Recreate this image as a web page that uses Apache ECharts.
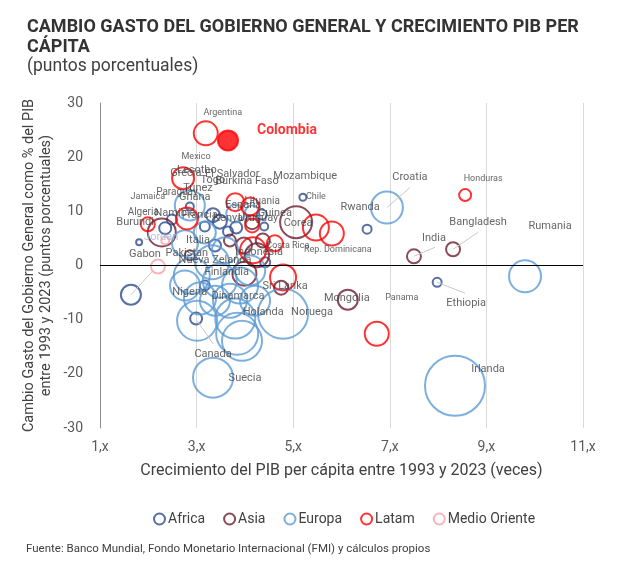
<!DOCTYPE html>
<html>
<head>
<meta charset="utf-8">
<script src="https://cdn.jsdelivr.net/npm/echarts@6/dist/echarts.min.js"></script>
<style>
  html, body { margin: 0; padding: 0; background: #fff; }
  #chart { width: 630px; height: 565px; }
</style>
</head>
<body>
<div id="chart"></div>
<script>
  // Crecimiento PIB per cápita (veces), cambio gasto (pp), tamaño burbuja
  const africaNames = ['Gabon', 'Chile', 'Rwanda', 'Ethiopia', 'Burundi', 'Algeria', 'Nigeria', 'Túnez', 'Ghana', 'Kenya', 'Togo', 'Burkina Faso', 'Mozambique', 'Guinea', 'Lesotho', 'Namibia', '', '', ''];
  const africaX = [1.64, 5.20, 6.53, 7.98, 1.81, 2.35, 3.17, 3.34, 3.48, 3.82, 3.17, 3.65, 4.40, 4.35, 2.86, 2.49, 2.99, 3.38, 4.42];
  const africaY = [-5.4, 12.6, 6.7, -3.1, 4.3, 6.9, -3.7, 9.3, 8.1, 7.0, 7.2, 6.3, 7.2, 9.4, 10.9, 8.5, -9.8, 3.7, 0.6];
  const africaSize = [20, 7, 9, 9, 6, 12, 10, 14, 14, 12, 10, 10, 8, 10, 8, 10, 12, 12, 10];

  const asiaNames = ['India', 'Bangladesh', 'Mongolia', 'Corea', 'Sri Lanka', '', 'Indonesia', '', '', '', 'Pakistan', '', ''];
  const asiaX = [7.50, 8.31, 6.13, 5.06, 4.75, 2.28, 4.25, 3.98, 4.37, 3.69, 2.86, 4.15, 3.99];
  const asiaY = [1.7, 3.0, -6.3, 8.0, -4.1, 6.1, 1.9, 3.7, 4.6, 4.6, 1.9, 8.0, -1.5];
  const asiaSize = [14, 14, 20, 32, 14, 28, 24, 16, 14, 12, 10, 14, 24];

  const europaNames = ['Croatia', 'Rumania', 'Irlanda', 'Suecia', 'Noruega', 'Holanda', 'Canada', 'Dinamarca', 'Finlandia', 'Nueva Zelanda', 'España', 'Lituania', 'Grecia', 'Italia', 'Francia', '', '', '', '', '', '', '', '', '', ''];
  const europaX = [6.94, 9.80, 8.35, 3.34, 4.79, 3.84, 3.01, 3.69, 3.48, 3.32, 3.80, 4.15, 2.86, 2.76, 3.17, 2.90, 3.90, 4.11, 3.07, 3.38, 4.21, 3.80, 2.76, 3.94, 3.59];
  const europaY = [10.7, -2.0, -22.2, -20.7, -8.9, -12.6, -10.2, -6.5, -2.8, 0.6, 9.6, 9.8, 11.1, 4.1, 6.1, -1.9, -3.7, -0.9, -6.1, -6.5, -6.5, -9.8, -3.7, -13.9, 2.8];
  const europaSize = [32, 32, 60, 40, 50, 42, 40, 34, 34, 34, 18, 14, 30, 26, 22, 36, 36, 30, 32, 30, 30, 40, 30, 40, 26];

  const latamNames = ['Argentina', 'Colombia', 'Mexico', 'El Salvador', '', 'Jamaica', 'Paraguay', 'Uruguay', '', 'Costa Rica', '', '', 'Rep. Dominicana', 'Panama', 'Honduras'];
  const latamX = [3.19, 3.65, 2.72, 3.80, 4.11, 1.99, 2.80, 4.15, 4.17, 4.62, 4.79, 5.47, 5.80, 6.73, 8.56];
  const latamY = [24.4, 23.1, 16.1, 11.7, 10.9, 7.6, 8.7, 7.4, 2.8, 4.1, -2.2, 7.0, 5.9, -12.6, 13.0];
  const latamSize = [24, 20, 22, 18, 18, 14, 22, 14, 26, 16, 26, 26, 24, 24, 12];

  const medioNames = ['Jordan', ''];
  const medioX = [2.35, 2.20];
  const medioY = [4.6, -0.2];
  const medioSize = [8, 14];

  const xTicks = [1, 3, 5, 7, 9, 11];

  // posición de etiquetas: [dx, dy, tamaño, fin de línea guía]
  const labelSpec = {
    'Gabon': [14, -41, 11, [22, -24]], 'Chile': [13, -1, 9], 'Rwanda': [-7, -22, 11], 'Ethiopia': [29, 21, 11, [28, 11]],
    'Burundi': [-4, -20, 11], 'Algeria': [-22, -16, 10], 'Nigeria': [-15, 7, 11], 'Túnez': [-15, -27, 11],
    'Ghana': [-25, -24, 11], 'Kenya': [-8, -9, 11], 'Togo': [8, -46, 11], 'Burkina Faso': [19, -50, 11],
    'Mozambique': [41, -50, 11], 'Guinea': [13, -1, 11], 'Lesotho': [7, -36, 11], 'Namibia': [3, -6, 11],
    'India': [20, -18, 11, [21, -9]], 'Bangladesh': [25, -27, 11, [25, -17]], 'Mongolia': [-1, -1, 11], 'Corea': [2, 1, 11],
    'Sri Lanka': [4, -1, 11], 'Indonesia': [2, -3, 11], 'Pakistan': [-3, -2, 11],
    'Croatia': [23, -30, 11, [23, -20]], 'Rumania': [25, -50, 11], 'Irlanda': [33, -17, 11], 'Suecia': [32, 1, 11],
    'Noruega': [29, -1, 11], 'Holanda': [26, -22, 11], 'Canada': [16, 33, 11, [16, 23]], 'Dinamarca': [8, -4, 11],
    'Finlandia': [7, -8, 11], 'Nueva Zelanda': [3, -2, 11], 'España': [8, -8, 11], 'Lituania': [10, -11, 10],
    'Grecia': [-4, -32, 11], 'Italia': [13, -3, 11], 'Francia': [-5, -17, 11],
    'Argentina': [17, -21, 9], 'Colombia': [59, -10, 14], 'Mexico': [13, -22, 9], 'El Salvador': [-3, -28, 11],
    'Jamaica': [0, -28, 9], 'Paraguay': [-10, -26, 10], 'Uruguay': [6, -7, 11], 'Costa Rica': [13, 2, 9],
    'Rep. Dominicana': [6, 16, 9], 'Panama': [25, -36, 9], 'Honduras': [18, -16, 9], 'Jordan': [-4, -3, 11]
  };

  const chart = echarts.init(document.getElementById('chart'));

  function buildSeries(name, color, names, xs, ys, sizes) {
    return {
      name: name,
      type: 'scatter',
      z: 3,
      symbolSize: d => d[2],
      itemStyle: { color: 'transparent', borderColor: color, borderWidth: 2 },
      label: {
        show: true, position: 'inside', formatter: '{b}',
        color: '#404040', fontSize: 11, fontFamily: 'Roboto'
      },
      labelLayout: p => {
        const s = labelSpec[p.text];
        if (!s) return {};
        return {
          x: p.rect.x + p.rect.width / 2 + s[0],
          y: p.rect.y + p.rect.height / 2 + s[1],
          align: 'center', verticalAlign: 'middle'
        };
      },
      emphasis: { disabled: true },
      data: names.map((n, i) => {
        const s = labelSpec[n];
        const item = {
          name: n,
          value: [xs[i], ys[i], sizes[i]],
          label: { show: !!s, fontSize: s ? s[2] : 11 }
        };
        if (n === 'Colombia') {
          item.itemStyle = { color: color };
          item.label.color = color;
          item.label.fontWeight = 'bold';
        }
        if (n === 'Jordan') item.label.color = '#9db4d6';
        return item;
      })
    };
  }

  const series = [
    buildSeries('Africa', '#2e4b8e', africaNames, africaX, africaY, africaSize),
    buildSeries('Asia', '#6b1d2f', asiaNames, asiaX, asiaY, asiaSize),
    buildSeries('Europa', '#5b9bd5', europaNames, europaX, europaY, europaSize),
    buildSeries('Latam', '#ff0000', latamNames, latamX, latamY, latamSize),
    buildSeries('Medio Oriente', '#f4a3ac', medioNames, medioX, medioY, medioSize)
  ];

  series[0].markLine = {
    silent: true, symbol: 'none', label: { show: false },
    lineStyle: { color: '#000', width: 1, type: 'solid' },
    data: [{ yAxis: 0 }]
  };

  // líneas guía de etiquetas desplazadas
  const allPoints = [];
  [[africaNames, africaX, africaY], [asiaNames, asiaX, asiaY], [europaNames, europaX, europaY],
   [latamNames, latamX, latamY], [medioNames, medioX, medioY]].forEach(([ns, xs, ys]) => {
    ns.forEach((n, i) => { if (n && labelSpec[n] && labelSpec[n][3]) allPoints.push({ name: n, value: [xs[i], ys[i]] }); });
  });

  series.push({
    type: 'custom',
    silent: true,
    z: 4,
    encode: { x: 0, y: 1 },
    data: allPoints,
    renderItem: (params, api) => {
      const c = api.coord([api.value(0), api.value(1)]);
      const e = labelSpec[allPoints[params.dataIndex].name][3];
      return {
        type: 'line',
        shape: { x1: c[0], y1: c[1], x2: c[0] + e[0], y2: c[1] + e[1] },
        style: { stroke: '#c8c8c8', lineWidth: 1 }
      };
    }
  });

  const legendColors = ['#2e4b8e', '#6b1d2f', '#5b9bd5', '#ff0000', '#f4a3ac'];

  chart.setOption({
    animation: false,
    textStyle: { fontFamily: 'Roboto' },
    title: {
      text: 'CAMBIO GASTO DEL GOBIERNO GENERAL Y CRECIMIENTO PIB PER\nCÁPITA',
      subtext: '(puntos porcentuales)',
      left: 22, top: 12, itemGap: 0,
      textStyle: { fontSize: 18, fontWeight: 'bold', color: '#333', lineHeight: 20, fontFamily: 'Roboto' },
      subtextStyle: { fontSize: 17.5, color: '#404040', fontFamily: 'Roboto', lineHeight: 19 }
    },
    legend: {
      top: 507, left: 148, itemGap: 18, itemWidth: 11, itemHeight: 11,
      icon: 'circle',
      textStyle: { fontSize: 14, color: '#404040', padding: [0, 0, 0, -2] },
      data: ['Africa', 'Asia', 'Europa', 'Latam', 'Medio Oriente'].map((n, i) => ({
        name: n,
        itemStyle: { color: '#fff', borderColor: legendColors[i], borderWidth: 2 }
      }))
    },
    grid: { left: 100, right: 47, top: 103, bottom: 137 },
    xAxis: {
      type: 'value', min: 1, max: 11, interval: 2,
      axisLine: { show: false, onZero: false },
      axisTick: { show: false },
      splitLine: { show: true, lineStyle: { color: '#d9d9d9' } },
      axisLabel: { formatter: v => xTicks.includes(v) ? v + ',x' : '', color: '#595959', fontSize: 14, margin: 12 },
      name: 'Crecimiento del PIB per cápita entre 1993 y 2023 (veces)',
      nameLocation: 'middle', nameGap: 35,
      nameTextStyle: { fontSize: 16, color: '#404040' }
    },
    yAxis: {
      type: 'value', min: -30, max: 30, interval: 10,
      axisLine: { show: true, lineStyle: { color: '#8c8c8c' } },
      axisTick: { show: false },
      splitLine: { show: false },
      axisLabel: { color: '#595959', fontSize: 14, margin: 17 },
      name: 'Cambio Gasto del Gobierno General como % del PIB\nentre 1993 y 2023 (puntos porcentuales)',
      nameLocation: 'middle', nameGap: 45, nameMoveOverlap: false,
      nameTextStyle: { fontSize: 14.5, color: '#404040', lineHeight: 17 }
    },
    graphic: [{
      type: 'text', left: 26, top: 543,
      style: {
        text: 'Fuente: Banco Mundial, Fondo Monetario Internacional (FMI) y cálculos propios',
        font: '11.5px Roboto', fill: '#404040'
      }
    }],
    series: series
  });
</script>
</body>
</html>
